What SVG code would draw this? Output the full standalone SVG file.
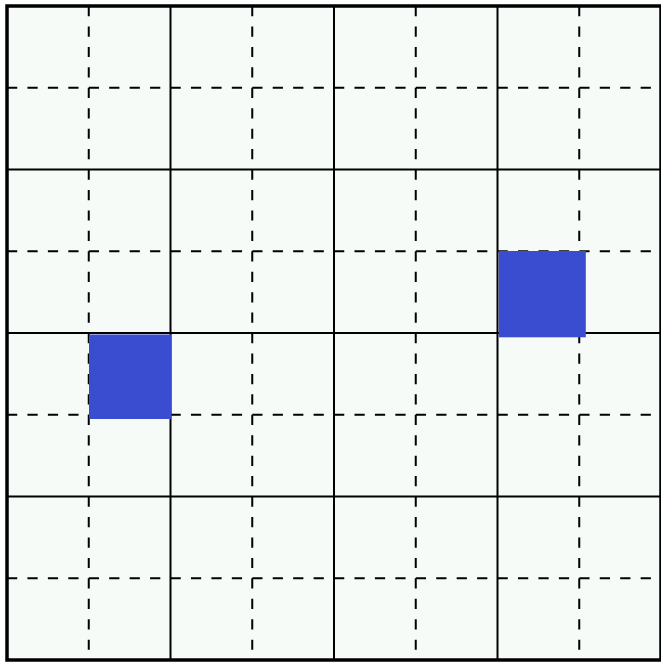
<svg xmlns="http://www.w3.org/2000/svg" width="661" height="665" viewBox="0 0 661 665">
<style>
.sol{stroke:#000;stroke-width:2;fill:none}
.dash{stroke:#000;stroke-width:2;fill:none;stroke-dasharray:10.22 10.22}
.brd{stroke:#000;stroke-width:3.5;fill:none}
.blk{fill:#3a4dd1}
</style>
<rect x="0" y="0" width="661" height="665" fill="#ffffff"/>
<rect x="7" y="6" width="654" height="654" fill="#f6fbf8"/>
<g id="dashed-lines">
<line class="dash" x1="88.75" y1="6" x2="88.75" y2="660"/>
<line class="dash" x1="252.25" y1="6" x2="252.25" y2="660"/>
<line class="dash" x1="415.75" y1="6" x2="415.75" y2="660"/>
<line class="dash" x1="579.25" y1="6" x2="579.25" y2="660"/>
<line class="dash" x1="7" y1="87.75" x2="661" y2="87.75"/>
<line class="dash" x1="7" y1="251.25" x2="661" y2="251.25"/>
<line class="dash" x1="7" y1="414.75" x2="661" y2="414.75"/>
<line class="dash" x1="7" y1="578.25" x2="661" y2="578.25"/>
</g>
<g id="solid-lines">
<line class="sol" x1="170.5" y1="6" x2="170.5" y2="660"/>
<line class="sol" x1="334" y1="6" x2="334" y2="660"/>
<line class="sol" x1="497.5" y1="6" x2="497.5" y2="660"/>
<line class="sol" x1="7" y1="169.5" x2="661" y2="169.5"/>
<line class="sol" x1="7" y1="333" x2="661" y2="333"/>
<line class="sol" x1="7" y1="496.5" x2="661" y2="496.5"/>
</g>
<g id="border">
<rect class="brd" x="7" y="6" width="654" height="654"/>
</g>
<g id="block-1"><rect class="blk" x="89" y="334.5" width="82.5" height="84.5"/></g>
<g id="block-2"><rect class="blk" x="498.8" y="251" width="87" height="86.3"/></g>
</svg>
